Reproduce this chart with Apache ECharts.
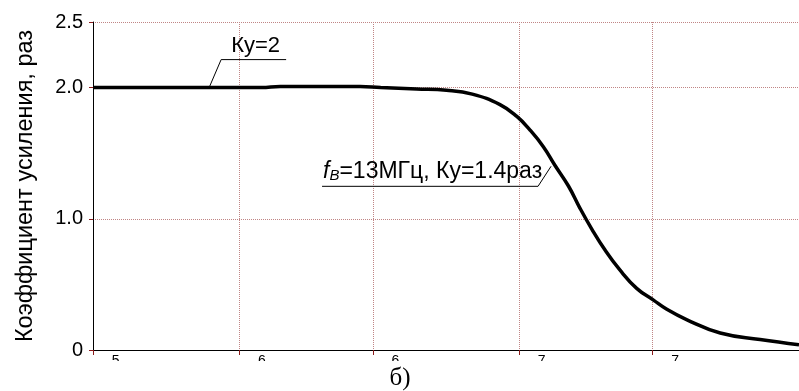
<!DOCTYPE html>
<html>
<head>
<meta charset="utf-8">
<script src="https://cdn.jsdelivr.net/npm/echarts@6/dist/echarts.min.js"></script>
<style>
  html, body { margin: 0; background: #fff; }
  #chart { width: 799px; height: 391px; }
</style>
</head>
<body>
<div id="chart"></div>
<script>
// АЧХ: частота (Гц) и коэффициент усиления (раз)
const freq = [3e5, 5e5, 7.8e5, 1.2e6, 1.4e6, 2e6, 2.7e6, 3.2e6, 4.3e6, 5.5e6, 6.8e6, 8.54e6,
  9.81e6, 1.09e7, 1.22e7, 1.34e7, 1.5e7, 1.65e7, 1.82e7, 2.03e7, 2.29e7, 2.63e7, 3.02e7, 3.37e7,
  3.98e7, 5.23e7, 7.26e7, 1e8];
const gain = [2.0, 2.0, 2.0, 2.0, 2.008, 2.008, 2.008, 2.0, 1.99, 1.98, 1.95, 1.87,
  1.78, 1.68, 1.55, 1.41, 1.25, 1.08, 0.92, 0.76, 0.61, 0.47, 0.38, 0.31,
  0.23, 0.13, 0.08, 0.04];
const xTicks = [3e5, 1e6, 3e6, 1e7, 3e7, 1e8];
const yTicks = [0, 1, 2, 2.5];
// точки выносок
const noteKy = [7.8e5, 2.0];
const noteFb = [1.3e7, 1.4];

const sans = '"Liberation Sans", Arial, sans-serif';
const gridColor = '#c08585';
const tickColor = '#8b1a1a';
const lg = Math.log10;

let chart = echarts.init(document.getElementById('chart'));
let option = {
  animation: false,
  grid: { left: 93, right: 0, top: 22, bottom: 41, outerBoundsMode: 'none', containLabel: false },
  // ось частот логарифмическая: по оси откладывается lg(f)
  xAxis: {
    type: 'value',
    min: lg(xTicks[0]),
    max: lg(xTicks[xTicks.length - 1]),
    axisLine: { lineStyle: { color: '#000', width: 1 } },
    axisTick: { show: true, customValues: xTicks.map(lg), length: 5, lineStyle: { color: tickColor } },
    axisLabel: {
      customValues: xTicks.map(lg),
      margin: 4,
      formatter: function (v) {
        let f = Math.pow(10, v);
        let e = Math.floor(v + 1e-9);
        let m = Math.round(f / Math.pow(10, e));
        return '{m|' + m + '×10}{s|' + e + '}';
      },
      rich: {
        m: { fontFamily: sans, fontSize: 20, color: '#000', lineHeight: 30, verticalAlign: 'bottom' },
        s: { fontFamily: sans, fontSize: 14, color: '#000', verticalAlign: 'top' },
      },
    },
    splitLine: { show: true, lineStyle: { type: 'dotted', color: gridColor, width: 1 } },
  },
  yAxis: {
    type: 'value',
    min: 0,
    max: 2.5,
    name: 'Коэффициент усиления, раз',
    nameLocation: 'middle',
    nameGap: 55,
    nameTextStyle: { fontFamily: sans, fontSize: 23.5, color: '#000' },
    axisLine: { show: true, lineStyle: { color: '#000', width: 1 } },
    axisTick: { show: true, customValues: yTicks, length: 4, lineStyle: { color: tickColor } },
    axisLabel: {
      customValues: yTicks,
      margin: 10,
      fontFamily: sans,
      fontSize: 20,
      color: '#000',
      formatter: function (v) {
        return v === 0 ? '0' : v.toFixed(1);
      },
    },
    splitLine: { show: true, lineStyle: { type: 'dotted', color: gridColor, width: 1 } },
  },
  series: [
    {
      type: 'line',
      data: freq.map((f, i) => [lg(f), gain[i]]),
      smooth: 0.45,
      showSymbol: false,
      lineStyle: { color: '#000', width: 3.5 },
      z: 5,
    },
  ],
};
chart.setOption(option);

// выноски привязаны к точкам кривой
let p1 = chart.convertToPixel({ xAxisIndex: 0, yAxisIndex: 0 }, [lg(noteKy[0]), noteKy[1]]);
let p2 = chart.convertToPixel({ xAxisIndex: 0, yAxisIndex: 0 }, [lg(noteFb[0]), noteFb[1]]);

chart.setOption({
  graphic: [
    {
      type: 'polyline',
      shape: { points: [[p1[0], p1[1]], [p1[0] + 12, p1[1] - 28], [p1[0] + 77, p1[1] - 28]] },
      style: { stroke: '#000', lineWidth: 1, fill: null },
      z: 10,
    },
    {
      type: 'text',
      x: p1[0] + 22,
      y: p1[1] - 31,
      style: {
        text: 'Ку=2', fontFamily: sans, fontSize: 22, fill: '#000',
        verticalAlign: 'bottom', textVerticalAlign: 'bottom',
      },
      z: 10,
    },
    {
      type: 'polyline',
      shape: { points: [[p2[0], p2[1]], [p2[0] - 13, p2[1] + 20], [p2[0] - 229, p2[1] + 20]] },
      style: { stroke: '#000', lineWidth: 1, fill: null },
      z: 10,
    },
    {
      type: 'text',
      x: p2[0] - 228,
      y: p2[1] + 17,
      style: {
        text: '{f|f}{b|B}{t|=13МГц, Ку=1.4раз}',
        verticalAlign: 'bottom', textVerticalAlign: 'bottom',
        rich: {
          f: { fontFamily: sans, fontSize: 23, fontStyle: 'italic', fill: '#000', verticalAlign: 'bottom' },
          b: { fontFamily: sans, fontSize: 15, fontStyle: 'italic', fill: '#000', verticalAlign: 'bottom' },
          t: { fontFamily: sans, fontSize: 23, fill: '#000', verticalAlign: 'bottom' },
        },
      },
      z: 10,
    },
    {
      type: 'rect',
      shape: { x: 0, y: 361, width: 799, height: 30 },
      style: { fill: '#fff' },
      z: 50,
    },
    {
      type: 'text',
      x: 400,
      y: 391,
      style: {
        text: 'б)', fontFamily: '"Liberation Serif", "Times New Roman", serif', fontSize: 25, fill: '#000',
        align: 'center', textAlign: 'center', verticalAlign: 'bottom', textVerticalAlign: 'bottom',
      },
      z: 60,
    },
  ],
});

window.addEventListener('resize', function () {
  chart.resize();
});
</script>
</body>
</html>
